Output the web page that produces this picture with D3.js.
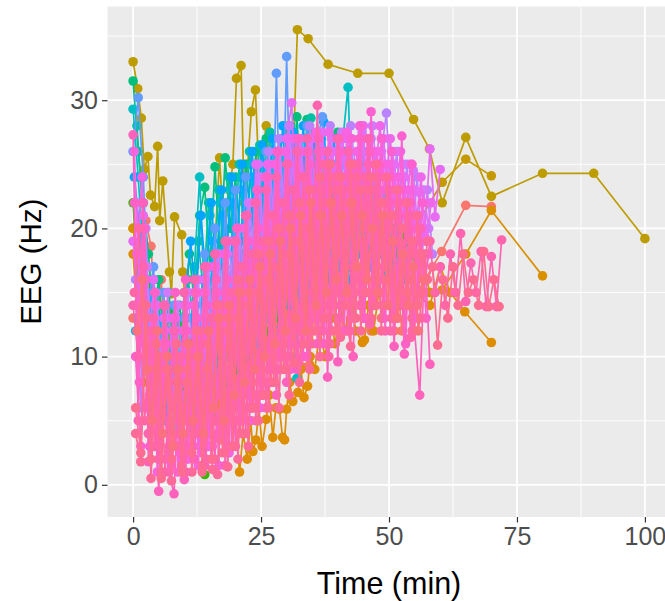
<!DOCTYPE html>
<html>
<head>
<meta charset="utf-8">
<script src="https://cdn.jsdelivr.net/npm/d3@7"></script>
<style>
  html, body { margin: 0; padding: 0; background: #ffffff; }
  svg { display: block; }
  text { font-family: "Liberation Sans", Arial, sans-serif; }
</style>
</head>
<body>
<svg id="chart" width="665" height="601"></svg>
<script>
// ---- sampling grids (minutes) ----
const wholeMinutes = [0,1,2,3,4,5,6,7,8,9,10,11,12,13,14,15,16,17,18,19,20,21,22,23,24,25,26,27,28,29,30,31,32,33,34,35,36,37,38,39,40,41,42,43,44,45,46,47,48,49,50,51,52,53,54,55,56,57,58,59,60,61,62,63,64,65,66,67,68,69,70,71,72];
const halfMinutes = [0.5,1.5,2.5,3.5,4.5,5.5,6.5,7.5,8.5,9.5,10.5,11.5,12.5,13.5,14.5,15.5,16.5,17.5,18.5,19.5,20.5,21.5,22.5,23.5,24.5,25.5,26.5,27.5,28.5,29.5,30.5,31.5,32.5,33.5,34.5,35.5,36.5,37.5,38.5,39.5,40.5,41.5,42.5,43.5,44.5,45.5,46.5,47.5,48.5,49.5,50.5,51.5,52.5,53.5,54.5,55.5,56.5,57.5,58.5,59.5,60.5,61.5,62.5,63.5,64.5,65.5,66.5,67.5,68.5,69.5,70.5,71.5];
const quarterMinutes = [0.25,1.25,2.25,3.25,4.25,5.25,6.25,7.25,8.25,9.25,10.25,11.25,12.25,13.25,14.25,15.25,16.25,17.25,18.25,19.25,20.25,21.25,22.25,23.25,24.25,25.25,26.25,27.25,28.25,29.25,30.25,31.25,32.25,33.25,34.25,35.25,36.25,37.25,38.25,39.25,40.25,41.25,42.25,43.25,44.25,45.25,46.25,47.25,48.25,49.25,50.25,51.25,52.25,53.25,54.25,55.25,56.25,57.25,58.25];
const threeQuarterMinutes = [0.75,1.75,2.75,3.75,4.75,5.75,6.75,7.75,8.75,9.75,10.75,11.75,12.75,13.75,14.75,15.75,16.75,17.75,18.75,19.75,20.75,21.75,22.75,23.75,24.75,25.75,26.75,27.75,28.75,29.75,30.75,31.75,32.75,33.75,34.75,35.75,36.75,37.75,38.75,39.75,40.75,41.75,42.75,43.75,44.75,45.75,46.75,47.75,48.75,49.75,50.75,51.75,52.75,53.75,54.75,55.75,56.75,57.75];

// ---- EEG (Hz) per subject ----
const salmonA = [13,12,19,4,14,3,12,2.5,11,3, 13,4,14,3,15,4,16,3.5,17,5, 18,4,19,6,18,7,20,8,21,9, 22,10,23,9.2,22,11,24,12,23,13, 24,12,22,14,25,13,23,15,24,14, 22,12,21,14,20,12,19,15];
const salmonB = [14,17,20.6,18.6,12,16,8,13,6,12, 5,11,4,12,3,13,4,14,5,15, 6,16,7,17,8,18,9,19,10,20, 11,21,12,22,9.4,21,13,22,14,23, 15,22,13,21,14,20,12,19,13,18, 14,17,12,16,13,15];
const salmonBTailTimes = [60.3, 65, 70];
const salmonBTailValues = [18.2, 21.8, 21.7];

const goldATimes = [0,0.9,1.6,2.2,2.9,3.4,4.2,4.8,5.2,5.8, 7.1,7.5,8.1,9.5,9.7,10.5,11.5,12.5,13.5,14.5, 15.5,16.9,17.8,18.8,19.5,20.2,21.1,21.7,22.4,23.1, 23.9,24.6,25.3,26,27,28,29,29.8,30.6,31.3, 32.1,34.2,38.1,43.9,50,54.8,57.9,60.4,65,70, 80,90,100];
const goldAValues = [33,30.9,28.6,24.6,25.6,22.6,21.7,26.4,20.6,23.7, 16.6,14.9,20.9,19.5,16.6,13,9,12,8,11, 15,25.5,19,23,25,31.7,32.7,22,25,29.1, 30.8,24,26,28,21,23,22,28,24,26, 35.5,34.8,32.8,32.1,32.1,28.5,26.2,22,27.1,22.5, 24.3,24.3,19.2];

const goldBTimes = [0,3,6,9,12,15,18,21,24,27,30,33,36,39,42,45,48,51,55,60.4,65,70];
const goldBValues = [20,10,8,6,9,8,12,14,16,18,17,20,19,21,20,22,19,21,20,23.6,25.4,24.1];

const orangeATimes = [0,1,2,3,4,5,6,7,8,9,10,11,12,13,14,15,16,17,18,19,20, 20.8,21.5,22.3,23,23.4,24,24.6,25.2,26,26.6, 27.3,27.9,28.6,29.2,29.6,30,30.6,31.2,32.2,32.8, 33.4,34.1,34.6,35.5,36.5,37.5,38.5,39.5,40.5,41.5, 42.5,43.5,44.8,45.2,46,47,48,50,52,55, 58,60,62,64.8,70];
const orangeAValues = [18,12,8,10,7,11,8,12,7,10,6,9,7,10,6,8,5,7,4,6,5, 1,4,2,5,2.6,3.5,6,3,5.1,7, 3.7,6,5.9,3.7,3.5,5.9,8,6.5,7.2,9, 6.8,7.7,10,9,12,10,13,11,14,12, 15,12,11.1,11.3,14,12,15,16,14,15, 14,17,15,13.5,11.1];

const orangeBTimes = [0,2,4,6,8,10,12,14,16,18,20,22,24,26,28,30,32,34,36,38,40,42,44,46,48,50,52,54,56,58,60.4,65,70,80];
const orangeBValues = [20,14,10,12,9,11,10,13,12,15, 14,17,16,18,17,19,18,20,19,21, 20,19,21,18,20,17,19,16,18,15, 15.2,18,21.4,16.3];

const green = [22,15,12,15.5,11,14,10,13.5,9,12.5, 6,11,4,9,0.8,10,5,14,8,16, 9,18,10,19,11,20,12,21,13,22, 14,21,15,23,16,22,17,24,16,23, 18,22,17,21,18,23,17,22,18,21, 17,20,18,19.5,18.9,17];
const teal = [31.5,26,22,18,13,16,11,15,10,14, 12,18,14,21,23.2,17,24.8,18,25.5,20, 24,19,25,21,26,20,27,22,26,21, 27.5,23,28.7,22,28.5,24,27,21,26,22, 27.5,20,25,21,26,19,24,20,23,18, 22,17,21,16,19];
const teal2 = [28,22,16,12,15,10,14,9,13,11, 16,13,19,15,22,17,23,18,24,19, 25,20,26,21,26.5,22,27.5,21,27,23, 28,22,27,24,28.6,23,27,22,26,21, 25];
const cyan = [29.3,24,18,12,16,9,14,8,13,9, 15,10,17,24,14,21,13,22,15,23, 14,24,16,25,15,24,17,26,16,25, 18,27,8.3,24,17,27,19,26,18,25, 20,27,31,19,25,17,24,15,22,16, 21,14,20];
const sky = [12,20,10,15,6,13,5,12,4,11, 6,13,7,16,8,19,9,21,10,22, 11,23,12,24,11,25,13,26,12,27, 14,26,15,27,13,25,16,26,15,24, 17,25,16,23,18,22,17,21,19,20, 16,21,15];
const sky2 = [24,20,12,9,13,7,12,8,13,9, 15,19,14,21,16,22,17,23,18,24, 19,25,20,26,21,26.5,20,27,22,28, 21,27.5,23,28,22,27,24,28.3,21,27, 23,26,20,25,21,24,19,23,18];
const blue = [26,30.2,24,14,17,8,15,7,14,6, 13,8,15,9,18,10,20,11,22,12, 23,13,24,14,25,13,26,15,32.1,16, 33.4,17,27,16,28,18,27,28.7,17,26, 19,27,18,25,20,26,19,24,21,23, 18,22];
const purple = [16,6,20,8,15,6,13,5,12,7, 14,6,15,8,17,9,18,10,18,12, 20,13,22,14,25,15,26,16,27,17, 28,18,27,17,28,19,27.5,18,28,20, 27,19,28,21,28,20,27,22,26,29, 21,26,20,25,19,24,18,23,18];
const purple2 = [22,11,17,9,14,8,15,9,14,8, 15,9,16,10,17,11,18,12,19,13, 20,15,22,16,24,17,25,19,26,20, 27,21,27,20,27,22,27.5,21,27,23, 27.5,22,27,24,27.5,23,28,24,27,22, 26,21,25,20,24.5,19,23,20];
const magenta = [19,14,21,9,16,5,13,4,12,5, 14,6,15,5,16,7,18,8,18,9, 19,11,21,12,25,13,24,14,26,15, 27,29.8,17,26,18,27,16,27.5,19,26, 18,27,20,25,21,28,19,26,22,27, 20,25,19,24,18,23,22.8,19.4,26.2,20.9,24.6];
const magenta2 = [26,14,16,7,14,6,12,7,13,6, 14,8,16,9,15,10,17,11,18,12, 19,14,21,15,23,16,25,17,26,18, 27,20,26,19,27,21,26,20,27.5,22, 26,21,27,23,28,22,27,24,28,23, 27,22,26,21,25,20,24,19,22];
const pink1 = [10,3,16,3,12,2,11,1.5,10,2, 12,3,13,2.5,14,3,15,4,16,5, 17,6,19,7,20,8,21,9,22,10, 23,11,24,12,25,13,26,14,25,15, 26,14,27,16,28,15,29.1,17,27,16, 26,15,27.2,14,25,13,22];
const pink7 = [18,24,6,13,1,11,2,13,1,12, 2,14,1.5,15,3,17,1.5,18,2.5,19, 4,20,5,22,6,24,8,25,9,26, 9,27,11,26,12,27.5,13,26,12,27, 14,27.5,13,26,15,27,14,26,16,25, 13,24,15,23,12,21,15,18];
const pink2 = [27.3,5,22,1.8,10,-0.5,8,1,-0.7,9, 0.4,10,2,11,1.5,12,2,13,1.5,14, 3,15,4,16,5,17,6,18,7,19, 8,20,9,21,10,22,11,23,8.4,22, 9.6,24,12,10,23,13,25,14,24,13, 22,10.8,21,10.2,20,12,7,18,9.4];
const pink6 = [22,8,20,3,15,2,14,4,15,2.5, 16,3,15,5,17,2,16,4,19,3, 20,5,21,6,23,7,24,9,26,10, 25,12,27,10,26,13,27,11,24,14, 27,12,25,15,27,13,26,14,25,12, 24,13,23,11,22,14,20,13];
const pink4 = [14,10,17,4,13,2,14,3,12,4, 15,5,16,4,17,6,18,7,19,6, 19,8,21,9,22,10,23,11,24,12, 25,13,26,14,27,15,29.6,16,26,17, 27,18,26,17,25,19,27,18,24,17, 23,19,22,17,21,18,20,16,19,15, 17,14,18,15,19.6,14.3,17.3,15,18.2,13.9, 17.8,13.9,19.1];
const pink3 = [4,1.8,13,0.5,9,1,10,0.3,8,1.5, 9,1,10,1.5,11,1.2,0.8,12,1.4,13, 2,14,3,15,5,16,6,17,6,18, 7,19,8,20,9,21,10,22,11,23, 11.5,22,10.8,24,12,23,13,25,12,24, 13,23,14,22,12,21,15,19];
const pink8 = [15,20,5,12,3,10,1,9,3,10, 1,11,4,12,2,13,5,14,3,15, 5,17,6,18,7,19,8,21,9,22, 10,23,9.5,24,11,23,12,25,10,24, 13,23,12,25,14,24,12.5,23,15,22, 12,21,14,20,11.5,19,13];
const pink5 = [6,2.5,14,2,11,0.5,9,2,11,1, 8,2.5,12,1,9,2,14,2.5,13,3, 16,4,15,6,18,7,19,8,20,9, 21,9.5,22,11,23,12,24,13,25,12, 24,14,25,13,23,15,24,14,22,16, 21,13,20,15,19,14,18,16,17,10.9, 16,13,17,14,18,15,16,14,18.2,13.9, 16,13.9];
const salmonPink = [12,16,9,5,12,4,10,3,9,4, 11,5,10,4,12,6,13,5,14,7, 15,8,16,9,17,10,18,11,19,12, 20,13,21,12,22,14,21,15,22,16, 21,15,22,17,21,16,20,15,21,14, 19,13,18,14,17,12,16];

// ---- axis breaks ----
const xTicks = [0, 25, 50, 75, 100];
const yTicks = [0, 10, 20, 30];
const xTickLabels = ["0", "25", "50", "75", "100"];
const yTickLabels = ["0", "10", "20", "30"];

// ---- subject table, in drawing order ----
const onGrid = (grid, values) => grid.slice(0, values.length);
const subjects = [
  { color: "#F8766D", times: onGrid(wholeMinutes, salmonA), values: salmonA },
  { color: "#F8766D", times: onGrid(halfMinutes, salmonB).concat(salmonBTailTimes), values: salmonB.concat(salmonBTailValues) },
  { color: "#BD9C00", times: goldATimes, values: goldAValues },
  { color: "#C49A00", times: goldBTimes, values: goldBValues },
  { color: "#DE8C00", times: orangeATimes, values: orangeAValues },
  { color: "#D89000", times: orangeBTimes, values: orangeBValues },
  { color: "#39B600", times: onGrid(wholeMinutes, green), values: green },
  { color: "#00BF7D", times: onGrid(wholeMinutes, teal), values: teal },
  { color: "#00C1A3", times: onGrid(threeQuarterMinutes, teal2), values: teal2 },
  { color: "#00BFC4", times: onGrid(wholeMinutes, cyan), values: cyan },
  { color: "#00B0F6", times: onGrid(halfMinutes, sky), values: sky },
  { color: "#00A5FF", times: onGrid(quarterMinutes, sky2), values: sky2 },
  { color: "#619CFF", times: onGrid(wholeMinutes, blue), values: blue },
  { color: "#B983FF", times: onGrid(halfMinutes, purple), values: purple },
  { color: "#D079FA", times: onGrid(threeQuarterMinutes, purple2), values: purple2 },
  { color: "#E76BF3", times: onGrid(wholeMinutes, magenta), values: magenta },
  { color: "#EF67EB", times: onGrid(quarterMinutes, magenta2), values: magenta2 },
  { color: "#FD61D1", times: onGrid(halfMinutes, pink1), values: pink1 },
  { color: "#F763E0", times: onGrid(threeQuarterMinutes, pink7), values: pink7 },
  { color: "#FF62BC", times: onGrid(wholeMinutes, pink2), values: pink2 },
  { color: "#FF61C6", times: onGrid(quarterMinutes, pink6), values: pink6 },
  { color: "#FF64B0", times: onGrid(wholeMinutes, pink4), values: pink4 },
  { color: "#FF6A98", times: onGrid(halfMinutes, pink3), values: pink3 },
  { color: "#FF66A8", times: onGrid(quarterMinutes, pink8), values: pink8 },
  { color: "#FF6C91", times: onGrid(halfMinutes, pink5), values: pink5 },
  { color: "#FC717F", times: onGrid(threeQuarterMinutes, salmonPink), values: salmonPink }
].map(s => ({ color: s.color, points: s.times.map((t, i) => ({ t, v: s.values[i] })) }));

// ---- layout ----
const svg = d3.select("#chart");
const panel = { left: 107.5, right: 670.5, top: 6.5, bottom: 517 };

const allPoints = subjects.flatMap(s => s.points);
function expand(ext) { const pad = (ext[1] - ext[0]) * 0.05; return [ext[0] - pad, ext[1] + pad]; }
const x = d3.scaleLinear().domain(expand(d3.extent(allPoints, d => d.t))).range([panel.left, panel.right]);
const y = d3.scaleLinear().domain(expand(d3.extent(allPoints, d => d.v))).range([panel.bottom, panel.top]);

// panel background
svg.append("rect")
  .attr("x", panel.left).attr("y", panel.top)
  .attr("width", panel.right - panel.left).attr("height", panel.bottom - panel.top)
  .attr("fill", "#EBEBEB");

// gridlines: minor halfway between breaks, then major
const xMinor = d3.pairs(xTicks).map(([a, b]) => (a + b) / 2);
const yMinor = d3.pairs(yTicks).map(([a, b]) => (a + b) / 2).concat([yTicks[yTicks.length - 1] + 5]);
const grid = svg.append("g");
grid.selectAll(".xminor").data(xMinor).join("line")
  .attr("x1", d => x(d)).attr("x2", d => x(d)).attr("y1", panel.top).attr("y2", panel.bottom)
  .attr("stroke", "#ffffff").attr("stroke-width", 0.9);
grid.selectAll(".yminor").data(yMinor).join("line")
  .attr("y1", d => y(d)).attr("y2", d => y(d)).attr("x1", panel.left).attr("x2", panel.right)
  .attr("stroke", "#ffffff").attr("stroke-width", 0.9);
grid.selectAll(".xmajor").data(xTicks).join("line")
  .attr("x1", d => x(d)).attr("x2", d => x(d)).attr("y1", panel.top).attr("y2", panel.bottom)
  .attr("stroke", "#ffffff").attr("stroke-width", 1.8);
grid.selectAll(".ymajor").data(yTicks).join("line")
  .attr("y1", d => y(d)).attr("y2", d => y(d)).attr("x1", panel.left).attr("x2", panel.right)
  .attr("stroke", "#ffffff").attr("stroke-width", 1.8);

// each subject: connecting line, then its points
const line = d3.line().x(d => x(d.t)).y(d => y(d.v));
const marks = svg.append("g");
subjects.forEach(s => {
  const g = marks.append("g");
  g.append("path")
    .attr("d", line(s.points))
    .attr("fill", "none")
    .attr("stroke", s.color)
    .attr("stroke-width", 1.7)
    .attr("stroke-linejoin", "round");
  g.selectAll("circle").data(s.points).join("circle")
    .attr("cx", d => x(d.t)).attr("cy", d => y(d.v)).attr("r", 4.8)
    .attr("fill", s.color);
});

// axes
const xAxis = d3.axisBottom(x).tickValues(xTicks).tickFormat((d, i) => xTickLabels[i]).tickSize(5.5).tickPadding(5);
const yAxis = d3.axisLeft(y).tickValues(yTicks).tickFormat((d, i) => yTickLabels[i]).tickSize(5.5).tickPadding(4);

const gx = svg.append("g").attr("transform", `translate(0,${panel.bottom})`).call(xAxis);
const gy = svg.append("g").attr("transform", `translate(${panel.left},0)`).call(yAxis);
[gx, gy].forEach(g => {
  g.select(".domain").remove();
  g.selectAll(".tick line").attr("stroke", "#333333").attr("stroke-width", 1.2);
  g.selectAll(".tick text").attr("fill", "#4D4D4D").style("font-size", "25px")
    .style("font-family", "'Liberation Sans', Arial, sans-serif");
});

// axis titles
svg.append("text")
  .attr("x", (panel.left + panel.right) / 2).attr("y", 594)
  .attr("text-anchor", "middle").attr("fill", "#000000")
  .style("font-size", "30.5px")
  .text("Time (min)");
svg.append("text")
  .attr("transform", `translate(41,${(panel.top + panel.bottom) / 2}) rotate(-90)`)
  .attr("text-anchor", "middle").attr("fill", "#000000")
  .style("font-size", "29.5px")
  .text("EEG (Hz)");
</script>
</body>
</html>
